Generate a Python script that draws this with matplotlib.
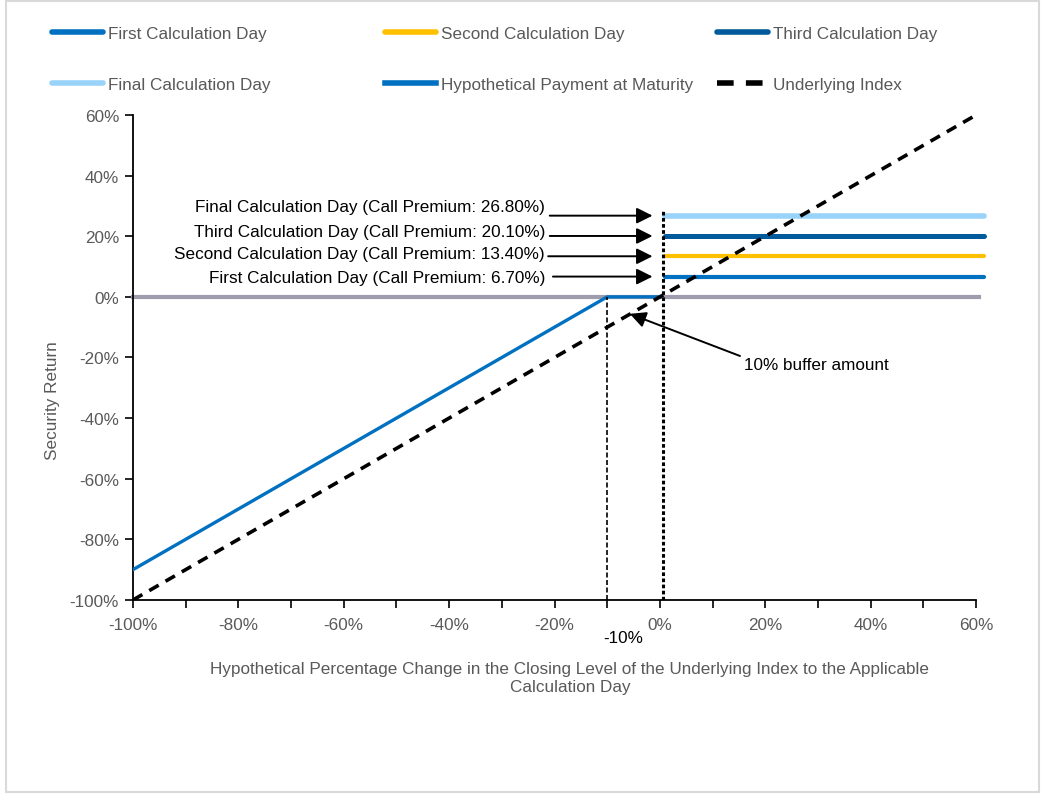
import matplotlib.pyplot as plt
from matplotlib.patches import Rectangle
from matplotlib.ticker import MultipleLocator, FuncFormatter

plt.rcParams['font.family'] = ['Liberation Sans', 'DejaVu Sans']

# data
day_names = ['First Calculation Day', 'Second Calculation Day',
             'Third Calculation Day', 'Final Calculation Day']
call_premiums = [6.70, 13.40, 20.10, 26.80]
day_colors = ['#0070C0', '#FFC000', '#005A9C', '#99D3FA']
day_widths = [3.0, 3.0, 3.6, 4.0]
premium_x = [1.0, 61.5]

index_x = [-100, 60]
index_y = [-100, 60]
payment_x = [-100, -10, 0]
payment_y = [-90, 0, 0]
zero_x = [-100, 60.5]
zero_y = [0, 0]
buffer_level = -10
strike_x = 0.5
strike_top = 29

GRAY = '#595959'

fig = plt.figure(figsize=(10.42, 8.03), dpi=100)
ax = fig.add_axes([0.1276, 0.2516, 0.8091, 0.6039])
ax.set_xlim(-100, 60)
ax.set_ylim(-100, 60)

# zero line
ax.plot(zero_x, zero_y, color='#9F9DAD', lw=3.0, clip_on=False, zorder=2)

# call premium lines
day_lines = []
for name, prem, col, w in zip(day_names, call_premiums, day_colors, day_widths):
    ln, = ax.plot(premium_x, [prem, prem], color=col, lw=w, label=name,
                  clip_on=False, solid_capstyle='round', zorder=3)
    day_lines.append(ln)

pay_line, = ax.plot(payment_x, payment_y, color='#0070C0', lw=2.4,
                    label='Hypothetical Payment at Maturity', zorder=4)
idx_line, = ax.plot(index_x, index_y, color='black', lw=2.6, ls=(0, (3, 2.2)),
                    label='Underlying Index', zorder=5)

# vertical guides
ax.plot([buffer_level, buffer_level], [-100, 0], color='black', lw=1.2,
        ls=(0, (3, 1.5)), zorder=4)
ax.plot([strike_x, strike_x], [-100, strike_top], color='black', lw=2.2,
        ls=(0, (1.2, 0.8)), zorder=4)

# call premium annotations
text_y = [6.3, 14.2, 21.5, 29.7]
arrow_start = [-20.3, -21.2, -20.9, -20.9]
for name, prem, ty, x0 in zip(day_names, call_premiums, text_y, arrow_start):
    label = f'{name} (Call Premium: {prem:.2f}%)'
    ax.text(-21.8, ty, label, ha='right', va='center', fontsize=12.3, color='black')
    ax.annotate('', xy=(-1.4, prem), xytext=(x0, prem),
                arrowprops=dict(arrowstyle='-|>', color='black', lw=1.4,
                                mutation_scale=24, shrinkA=0, shrinkB=0))

# buffer annotation
ax.annotate('', xy=(-5.7, -5.6), xytext=(15.2, -19.5),
            arrowprops=dict(arrowstyle='-|>', color='black', lw=1.4,
                            mutation_scale=24, shrinkA=0, shrinkB=0))
ax.text(16.0, -22.3, '10% buffer amount', ha='left', va='center',
        fontsize=12.3, color='black')

# axes styling
for s in ['top', 'right']:
    ax.spines[s].set_visible(False)
for s in ['left', 'bottom']:
    ax.spines[s].set_linewidth(1.3)
ax.xaxis.set_major_locator(MultipleLocator(20))
ax.xaxis.set_minor_locator(MultipleLocator(10))
ax.yaxis.set_major_locator(MultipleLocator(20))
pct = FuncFormatter(lambda v, p: f'{v:.0f}%')
ax.xaxis.set_major_formatter(pct)
ax.yaxis.set_major_formatter(pct)
ax.tick_params(axis='both', which='both', direction='out', length=6, width=1.2,
               labelsize=12.3, labelcolor=GRAY)
ax.tick_params(axis='x', pad=6)
ax.tick_params(axis='y', pad=4)

ax.text(-7.0, -112.5, '-10%', ha='center', va='center', fontsize=12.3, color='black')

ax.set_ylabel('Security Return', fontsize=12.3, color=GRAY)
ax.yaxis.set_label_coords(-0.086, 0.414)
fig.text(0.547, 0.155,
         'Hypothetical Percentage Change in the Closing Level of the Underlying Index to the Applicable\nCalculation Day',
         ha='center', va='center', fontsize=12.3, color=GRAY, linespacing=1.25)

# legend in three columns
cols = [(day_lines[0], day_lines[3]), (day_lines[1], pay_line), (day_lines[2], idx_line)]
col_x = [52, 385, 717]
for handles, x0 in zip(cols, col_x):
    leg = fig.legend(handles=list(handles), loc='upper left',
                     bbox_to_anchor=(x0 / 1042, 1 - 27 / 803),
                     frameon=False, fontsize=12.3, handlelength=3.0,
                     handletextpad=0.3, labelspacing=2.1,
                     borderpad=0, borderaxespad=0)
    for t in leg.get_texts():
        t.set_color(GRAY)
    for h in leg.legend_handles:
        h.set_linewidth(4)

# figure border
fig.patches.append(Rectangle((6 / 1042, 1 - 793 / 803), 1033 / 1042, 791 / 803,
                             transform=fig.transFigure, fill=False,
                             edgecolor='#D9D9D9', lw=1.5))

fig.savefig('out.png', dpi=100)
